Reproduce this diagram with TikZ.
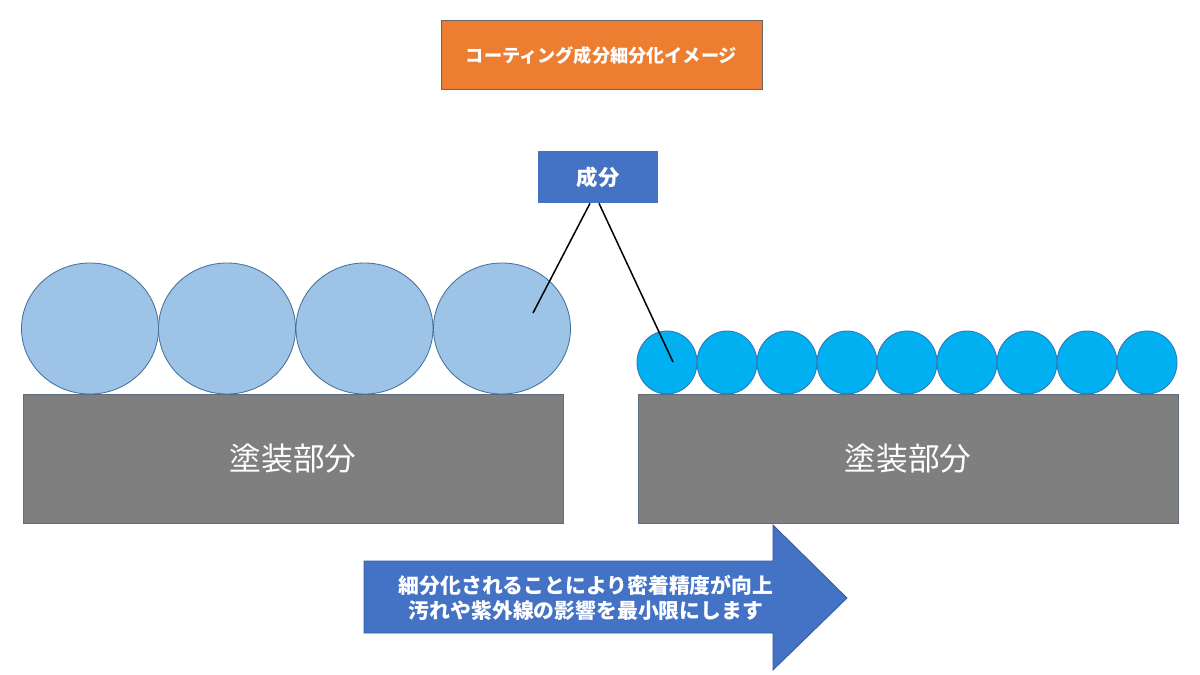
\documentclass[tikz,border=0pt]{standalone}
\usepackage{fontspec}
\newfontfamily\cjk{Noto Sans CJK JP}
\usetikzlibrary{shapes.geometric}
\definecolor{orangebox}{HTML}{ED7D31}
\definecolor{bluebox}{HTML}{4472C4}
\definecolor{bigball}{HTML}{9DC3E6}
\definecolor{bigballedge}{HTML}{41719C}
\definecolor{smallball}{HTML}{00B0F0}
\definecolor{smallballedge}{HTML}{2E75B6}
\definecolor{paint}{HTML}{7F7F7F}
\definecolor{paintedge}{HTML}{5F6B80}
\tikzset{
  bigcirc/.style={ellipse, draw=bigballedge, fill=bigball, line width=0.5pt, minimum width=137*0.6pt, minimum height=131*0.6pt, inner sep=0pt},
  smallcirc/.style={ellipse, draw=smallballedge, fill=smallball, line width=0.5pt, minimum width=60*0.6pt, minimum height=63*0.6pt, inner sep=0pt},
  paintbox/.style={draw=paintedge, fill=paint, line width=0.5pt, minimum width=540*0.6pt, minimum height=129*0.6pt, inner sep=0pt, text=white, font=\cjk\fontsize{19}{22}\selectfont},
  leader/.style={draw=black, line width=0.9pt},
  arrowshape/.style={draw=bluebox!80!black, fill=bluebox, line width=0.5pt},
}
\begin{document}
\begin{tikzpicture}[x=0.6pt,y=-0.6pt]
\useasboundingbox (0,0) rectangle (1200,675);
\fill[white] (0,0) rectangle (1200,675);
% title
\node[draw=gray!80!black, fill=orangebox, line width=0.6pt, minimum width=321*0.6pt, minimum height=69*0.6pt, inner sep=0pt, text=white, font=\cjk\bfseries\fontsize{10.9}{12}\selectfont] (title) at (601.5,55.5) {コーティング成分細分化イメージ};
% component label
\node[fill=bluebox, minimum width=120*0.6pt, minimum height=52*0.6pt, inner sep=0pt, text=white, font=\cjk\bfseries\fontsize{12.8}{14}\selectfont] (comp) at (598,177) {成分};
% painted parts
\node[paintbox] (leftpaint) at (293,458.5) {塗装部分};
\node[paintbox] (rightpaint) at (908,458.5) {塗装部分};
% big circles
\foreach \i/\cx in {1/90,2/227,3/364.5,4/502}{
  \node[bigcirc] (big\i) at (\cx,328.5) {};
}
% small circles
\foreach \i in {1,...,9}{
  \node[smallcirc] (small\i) at ({667+60*(\i-1)},362.5) {};
}
% leaders
\coordinate (p1) at (533,313);
\coordinate (p2) at (673,362);
\draw[leader] ([xshift=-4.8pt]comp.south) -- (p1);
\draw[leader] ([xshift=0.6pt]comp.south) -- (p2);
% arrow
\draw[arrowshape] (364,561) -- (773,561) -- (773,525) -- (847,598) -- (773,670) -- (773,633) -- (364,633) -- cycle;
\node[text=white, align=center, font=\cjk\bfseries\fontsize{12.5}{15.3}\selectfont] (arrowtext) at (586,598) {細分化されることにより密着精度が向上\\汚れや紫外線の影響を最小限にします};
\end{tikzpicture}
\end{document}
